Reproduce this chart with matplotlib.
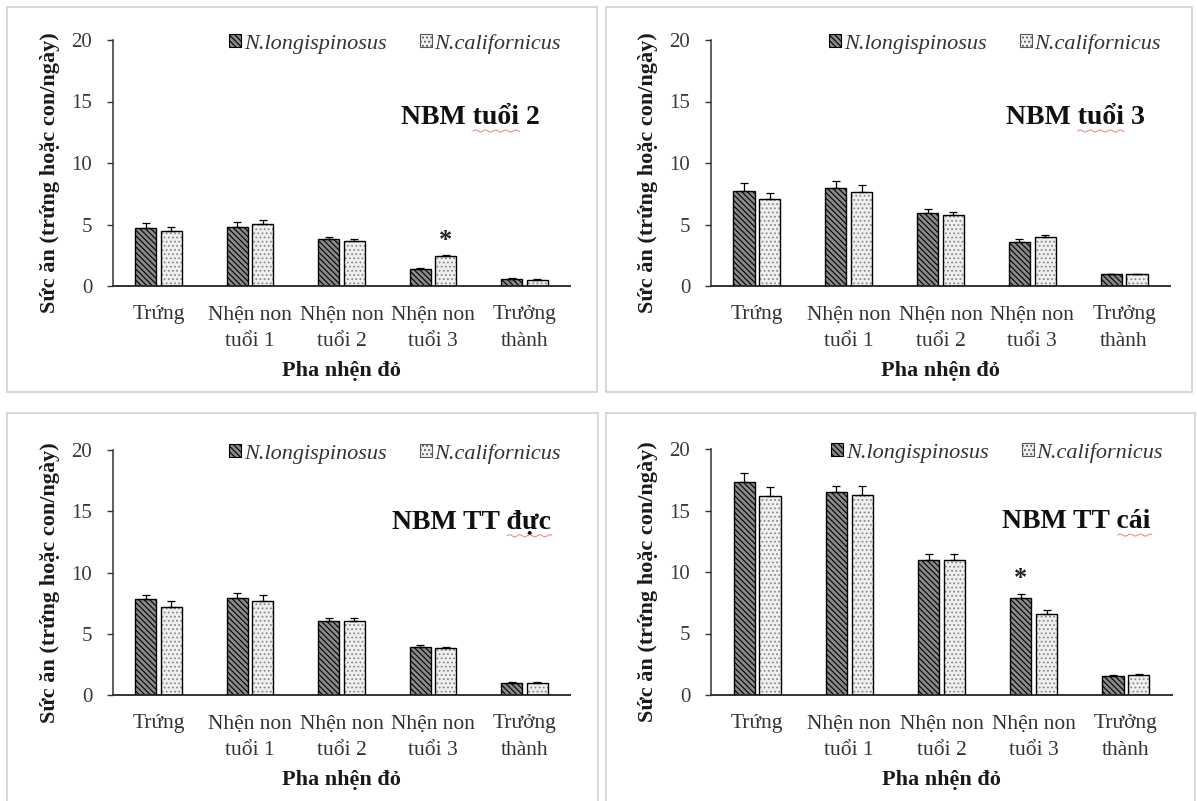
import numpy as np
import matplotlib
matplotlib.use("Agg")
import matplotlib.pyplot as plt
from matplotlib.patches import Rectangle, Patch

plt.rcParams['font.family'] = ['Liberation Serif', 'DejaVu Serif']
plt.rcParams['hatch.linewidth'] = 0.8

categories = ["Trứng", "Nhện non\ntuổi 1", "Nhện non\ntuổi 2", "Nhện non\ntuổi 3", "Trưởng\nthành"]
series_names = ["N.longispinosus", "N.californicus"]
yticks = [0, 5, 10, 15, 20]

titles = ["NBM tuổi 2", "NBM tuổi 3", "NBM TT đực", "NBM TT cái"]
underlined = ["tuổi", "tuổi", "đực", "cái"]

p1_long = [4.7, 4.8, 3.85, 1.4, 0.6]
p1_long_err = [0.45, 0.4, 0.12, 0.08, 0.05]
p1_cal = [4.45, 5.05, 3.65, 2.4, 0.5]
p1_cal_err = [0.35, 0.35, 0.2, 0.1, 0.06]

p2_long = [7.75, 7.95, 5.95, 3.55, 0.95]
p2_long_err = [0.65, 0.55, 0.3, 0.25, 0.05]
p2_cal = [7.05, 7.65, 5.75, 3.95, 0.95]
p2_cal_err = [0.5, 0.55, 0.3, 0.2, 0.05]

p3_long = [7.8, 7.95, 6.05, 3.95, 1.0]
p3_long_err = [0.4, 0.4, 0.25, 0.12, 0.05]
p3_cal = [7.2, 7.7, 6.05, 3.8, 1.0]
p3_cal_err = [0.45, 0.45, 0.27, 0.15, 0.05]

p4_long = [17.35, 16.5, 11.0, 7.9, 1.55]
p4_long_err = [0.7, 0.5, 0.45, 0.3, 0.06]
p4_cal = [16.15, 16.3, 10.95, 6.6, 1.6]
p4_cal_err = [0.75, 0.7, 0.5, 0.28, 0.08]

# significance stars: (series index, category index)
stars = [(1, 3), None, None, (0, 3)]

panels = [
    (p1_long, p1_long_err, p1_cal, p1_cal_err),
    (p2_long, p2_long_err, p2_cal, p2_cal_err),
    (p3_long, p3_long_err, p3_cal, p3_cal_err),
    (p4_long, p4_long_err, p4_cal, p4_cal_err),
]

W, H = 1197, 801
fig = plt.figure(figsize=(W / 100, H / 100), dpi=100)
fig.patch.set_facecolor('white')

# panel frames (pixel boxes: left, top, right, bottom)
frames = [(7, 7, 597, 392), (606, 7, 1192, 392), (7, 413, 598, 806), (606, 413, 1195, 806)]
for (l, t, r, b) in frames:
    fig.add_artist(Rectangle((l / W, 1 - b / H), (r - l) / W, (b - t) / H,
                             transform=fig.transFigure, facecolor='none',
                             edgecolor='#d4d4d4', lw=1.3, zorder=-5))

# axes boxes in pixels: left, top(y=20), right, bottom(y=0)
axboxes = [(113, 40, 570, 286), (711, 40, 1170, 286), (113, 450, 570, 695), (711, 449, 1172, 695)]
title_x = [0.935, 0.945, 0.958, 0.954]
title_y = [13.7, 13.7, 14.1, 14.1]

dark_face = '#8a8a8a'
light_face = '#efefef'
off = 0.14
bw = 0.23
TFS = 20

x = np.arange(len(categories))

for i, ((l, t, r, b), (lv, le, cv, ce)) in enumerate(zip(axboxes, panels)):
    ax = fig.add_axes([l / W, 1 - b / H, (r - l) / W, (b - t) / H])
    ax.set_facecolor('none')
    # dark bars
    ax.bar(x - off, lv, bw, color=dark_face, edgecolor='black', hatch='\\\\\\\\\\\\', lw=0, zorder=2)
    ax.bar(x - off, lv, bw, color='none', edgecolor='black', lw=1.0, zorder=3)
    # light bars with grey dots
    ax.bar(x + off, cv, bw, color=light_face, edgecolor='#8a8a8a', hatch='....', lw=0, zorder=2)
    ax.bar(x + off, cv, bw, color='none', edgecolor='black', lw=1.0, zorder=3)
    ax.errorbar(x - off, lv, yerr=[np.zeros(len(lv)), le], fmt='none', ecolor='black',
                elinewidth=0.9, capsize=3, capthick=0.9, zorder=4)
    ax.errorbar(x + off, cv, yerr=[np.zeros(len(cv)), ce], fmt='none', ecolor='black',
                elinewidth=0.9, capsize=3, capthick=0.9, zorder=4)
    if stars[i] is not None:
        s, c = stars[i]
        vals = lv if s == 0 else cv
        errs = le if s == 0 else ce
        xs = c - off if s == 0 else c + off
        ax.text(xs, vals[c] + errs[c] + 0.3, '*', ha='center', va='bottom', fontsize=19,
                fontweight='bold', color='#222222')

    ax.set_xlim(-0.5, 4.5)
    ax.set_ylim(0, 20)
    ax.set_yticks(yticks)
    ax.set_xticks(x)
    ax.set_xticklabels(categories, fontsize=15.5, linespacing=1.55)
    ax.tick_params(axis='x', length=0, pad=14, colors='#333333')
    ax.tick_params(axis='y', direction='out', length=4, width=1, pad=11, labelsize=15,
                   colors='#333333', labelcolor='#3a3a3a')
    for sp in ['top', 'right']:
        ax.spines[sp].set_visible(False)
    ax.spines['left'].set_color('#333333')
    ax.spines['bottom'].set_color('#333333')
    ax.spines['left'].set_linewidth(1.1)
    ax.spines['bottom'].set_linewidth(1.4)

    ax.set_ylabel('Sức ăn (trứng hoặc con/ngày)', fontsize=16, fontweight='bold',
                  color='#1a1a1a')
    ax.yaxis.set_label_coords(-0.116, 0.46)
    ax.set_xlabel('Pha nhện đỏ', fontsize=16, fontweight='bold', labelpad=7, color='#1a1a1a')

    handles = [Patch(facecolor=dark_face, edgecolor='black', hatch='\\\\\\\\\\\\', lw=0.8),
               Patch(facecolor=light_face, edgecolor='#555555', hatch='....', lw=0.8)]
    ax.legend(handles, series_names, loc='center right', bbox_to_anchor=(1.0, 0.985),
              ncol=2, frameon=False, prop={'style': 'italic', 'size': 16},
              handlelength=0.55, handleheight=0.55, handletextpad=0.12, columnspacing=1.5,
              borderaxespad=0, labelcolor='#333333')

    tt = ax.text(title_x[i], title_y[i], titles[i], transform=ax.get_yaxis_transform(),
                 ha='right', va='center', fontsize=TFS, fontweight='bold', color='#111111')
    # spell-check style red wavy underline under one word
    fig.canvas.draw()
    rend = fig.canvas.get_renderer()
    bb = tt.get_window_extent(rend)
    word = underlined[i]
    prefix = titles[i][:titles[i].index(word)]
    tmp = fig.text(0, 0, prefix.replace(' ', '\u00a0'), fontsize=TFS, fontweight='bold')
    pw = tmp.get_window_extent(rend).width
    tmp2 = fig.text(0, 0, word, fontsize=TFS, fontweight='bold')
    ww = tmp2.get_window_extent(rend).width
    tmp.remove(); tmp2.remove()
    x0 = bb.x0 + pw
    xs_ = np.linspace(x0, x0 + ww, 60)
    ys_ = bb.y0 - 1 + 1.0 * np.sin((xs_ - x0) / 1.6)
    fig.add_artist(plt.Line2D(xs_ / W, ys_ / H, transform=fig.transFigure, color='#e06060',
                              lw=0.7, alpha=0.8))

fig.savefig('out.png', dpi=100)
